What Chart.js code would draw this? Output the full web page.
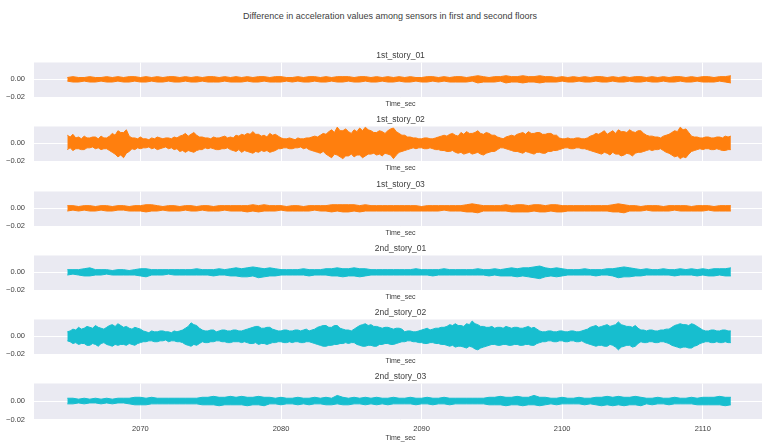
<!DOCTYPE html>
<html>
<head>
<meta charset="utf-8">
<script src="https://cdn.jsdelivr.net/npm/chart.js@4/dist/chart.umd.min.js"></script>
<style>
  html, body { margin: 0; padding: 0; background: #fff; overflow: hidden; }
  #fig { position: relative; width: 762px; height: 442px; overflow: hidden; background: #fff; }
  #suptitle {
    position: absolute; left: 0; top: 11px; width: 780px; line-height: 12px;
    text-align: center; font: 9px 'Liberation Sans', Arial, sans-serif; color: #3d3d3d;
  }
  canvas { position: absolute; left: 0; }
</style>
</head>
<body>
<div id="fig">
  <div id="suptitle">Difference in acceleration values among sensors in first and second floors</div>
</div>
<script>
// Sensor difference signals, summarised as upper / lower peak per time window.
// Values are in units of 1e-3; the two strongest channels use 0.2 s windows, the rest 0.4 s.
const T0 = 2064.8;   // first window start (s)
const UNIT = 1e-3;

const panelNames = ['1st_story_01', '1st_story_02', '1st_story_03',
                    '2nd_story_01', '2nd_story_02', '2nd_story_03'];
const windowSteps = [0.4, 0.2, 0.4, 0.4, 0.2, 0.4];
const xTicks = [2070, 2080, 2090, 2100, 2110];
const yTicks = [-0.02, 0.00];

const s1_01_hi = [
  2,3,2,2,3,2,2,3,2,3, 2,3,3,2,3,2,3,2,3,3, 2,3,2,3,2,3,3,2,3,2, 3,2,3,2,3,3,2,3,3,2,
  2,3,2,3,3,2,3,2,3,3, 3,2,3,3,2,3,2,3,2,3, 2,3,2,2,3,3,2,3,2,3, 3,2,3,4,3,2,3,3,4,3,
  3,4,3,3,4,3,3,2,3,2, 3,2,3,2,3,3,2,3,2,3, 2,3,3,2,3,2,3,2,3,3, 2,3,2,3,3,2,3,3,4];
const s1_01_lo = [
  -2,-3,-3,-2,-3,-3,-2,-3,-3,-2, -3,-3,-2,-3,-3,-2,-3,-3,-2,-3, -3,-2,-3,-3,-2,-3,-3,-3,-2,-3, -3,-3,-2,-3,-3,-2,-3,-3,-3,-2,
  -3,-2,-3,-3,-2,-3,-3,-2,-3,-3, -2,-3,-3,-2,-3,-3,-2,-3,-3,-2, -3,-3,-2,-3,-3,-2,-3,-2,-3,-3, -3,-3,-2,-4,-3,-3,-3,-2,-4,-3,
  -3,-4,-3,-3,-4,-3,-3,-3,-2,-3, -3,-2,-3,-3,-2,-3,-3,-2,-3,-3, -2,-3,-3,-2,-3,-3,-2,-3,-3,-2, -3,-3,-2,-3,-3,-3,-2,-3,-4];

const s1_02_hi = [
  9,7,10,6,7,5,8,6,6,7,7,5,8,6,6,8,11,9,14,12,
  12,15,8,6,6,5,7,5,5,4,6,5,7,6,5,6,6,5,7,6,
  8,9,11,8,10,12,9,7,7,6,6,5,7,6,6,7,8,6,7,6,
  9,8,10,9,11,10,13,10,10,8,9,7,11,9,10,8,6,5,5,6,
  5,4,6,5,5,6,6,7,8,7,9,11,10,13,15,12,18,14,14,16,
  13,11,15,13,17,14,18,15,14,12,12,14,13,11,14,16,17,13,11,9,
  9,7,7,6,6,5,5,6,6,5,5,6,7,8,9,8,10,11,9,8,
  12,10,13,11,11,12,14,11,10,12,11,9,9,7,6,5,7,8,9,8,
  10,11,12,10,13,11,11,12,12,10,10,11,11,9,9,6,5,5,6,5,
  5,6,6,5,5,6,8,9,11,10,12,14,10,12,14,11,15,13,13,12,
  15,13,12,14,14,11,9,8,8,7,7,6,8,9,10,12,14,13,18,15,
  16,12,8,7,7,6,6,7,7,6,6,7,7,6,8,7,8];
const s1_02_lo = [
  -7,-5,-8,-6,-6,-7,-7,-5,-5,-4,-6,-5,-7,-6,-6,-8,-10,-12,-15,-13,
  -16,-11,-9,-6,-7,-5,-6,-5,-5,-4,-6,-5,-7,-6,-5,-4,-6,-5,-7,-6,
  -9,-8,-10,-8,-9,-10,-8,-7,-7,-5,-6,-5,-6,-7,-7,-6,-6,-5,-7,-8,
  -9,-7,-10,-8,-9,-10,-11,-9,-10,-8,-9,-8,-10,-9,-8,-6,-6,-5,-5,-6,
  -6,-5,-5,-4,-6,-5,-7,-8,-9,-10,-11,-9,-12,-14,-16,-12,-13,-15,-17,-14,
  -14,-12,-15,-13,-13,-16,-14,-12,-12,-11,-13,-12,-14,-11,-12,-13,-17,-13,-10,-9,
  -8,-7,-6,-5,-6,-5,-5,-6,-6,-5,-6,-7,-7,-8,-8,-9,-9,-8,-10,-11,
  -10,-12,-11,-10,-12,-11,-10,-12,-13,-11,-10,-9,-9,-7,-5,-5,-6,-7,-8,-9,
  -9,-10,-11,-9,-10,-11,-12,-10,-10,-11,-11,-9,-9,-8,-8,-7,-6,-5,-5,-6,
  -6,-5,-5,-6,-6,-7,-8,-9,-10,-11,-12,-10,-11,-13,-10,-12,-12,-14,-13,-11,
  -12,-14,-11,-10,-10,-9,-8,-7,-8,-7,-7,-6,-8,-10,-11,-13,-15,-14,-17,-15,
  -16,-12,-9,-8,-7,-6,-7,-6,-6,-7,-7,-6,-7,-8,-8,-7,-7];

const s1_03_hi = [
  3,3,2,3,3,2,3,3,2,3, 3,2,3,3,4,4,3,2,3,3, 2,3,3,2,3,3,2,3,3,3, 3,3,3,4,3,4,3,3,3,2,
  3,3,2,3,3,3,3,4,4,4, 4,4,3,4,3,3,3,3,3,3, 3,3,3,2,3,3,3,3,3,3, 3,4,5,4,3,3,3,3,4,3,
  4,4,3,4,4,3,4,4,3,3, 3,3,3,3,3,3,3,4,5,4, 3,3,2,3,3,3,2,3,3,3, 3,2,3,3,3,2,3,3,3];
const s1_03_lo = [
  -3,-2,-3,-2,-3,-3,-2,-3,-3,-2, -2,-3,-3,-3,-4,-3,-3,-2,-3,-3, -3,-2,-3,-3,-2,-3,-3,-3,-2,-3, -3,-3,-4,-3,-4,-3,-3,-3,-2,-3,
  -3,-3,-3,-3,-2,-3,-3,-4,-3,-4, -4,-3,-4,-3,-3,-3,-3,-3,-3,-3, -3,-3,-3,-3,-3,-3,-3,-2,-3,-3, -3,-4,-4,-5,-3,-3,-3,-3,-3,-4,
  -4,-4,-4,-3,-4,-4,-3,-4,-4,-3, -3,-3,-3,-3,-3,-3,-3,-4,-4,-5, -3,-3,-3,-2,-3,-3,-3,-3,-2,-3, -3,-3,-3,-3,-2,-3,-3,-3,-3];

const s2_01_hi = [
  3,3,3,4,5,3,3,3,2,3, 3,2,3,4,4,3,3,3,3,3, 3,3,3,4,3,3,3,4,3,4, 5,4,5,6,5,4,5,4,3,3,
  3,3,4,3,3,3,4,4,5,4, 4,5,4,4,3,3,3,3,3,3, 3,3,4,3,3,3,3,4,3,3, 3,3,3,4,3,3,4,3,4,5,
  4,5,5,6,7,5,4,5,4,3, 3,3,4,3,3,3,4,4,5,6, 5,4,3,4,3,3,4,3,3,4, 3,4,3,4,3,4,4,4,5];
const s2_01_lo = [
  -3,-2,-3,-4,-4,-3,-3,-2,-3,-3, -3,-3,-3,-4,-5,-3,-3,-3,-2,-3, -3,-3,-3,-3,-3,-3,-4,-3,-3,-4, -4,-5,-5,-4,-6,-5,-4,-4,-3,-3,
  -3,-3,-3,-4,-3,-3,-3,-4,-4,-5, -4,-4,-5,-4,-3,-3,-3,-3,-3,-3, -3,-3,-3,-3,-3,-4,-3,-3,-3,-3, -3,-3,-3,-3,-3,-4,-3,-4,-4,-4,
  -5,-4,-5,-6,-7,-5,-4,-5,-4,-3, -3,-3,-3,-3,-4,-3,-3,-4,-6,-5, -5,-4,-4,-3,-3,-3,-3,-3,-4,-3, -3,-3,-4,-3,-4,-4,-3,-4,-4];

const s2_02_hi = [
  5,6,8,7,10,8,9,11,10,9,12,10,9,8,10,12,13,11,14,12,
  10,11,9,8,10,9,8,6,5,4,6,5,5,6,6,5,5,4,6,5,
  6,7,9,11,15,13,12,9,7,6,6,7,7,5,6,7,7,6,6,7,
  7,6,6,7,8,9,10,11,11,9,9,10,10,8,7,6,6,7,7,6,
  6,7,7,6,7,8,6,7,8,10,11,12,12,10,10,12,12,9,8,7,
  7,6,8,10,12,13,14,12,13,11,11,10,9,10,10,9,8,9,9,8,
  5,6,6,5,5,6,7,8,9,7,8,9,9,10,10,11,13,12,14,12,
  12,11,14,13,17,14,13,11,11,10,10,11,9,10,10,9,11,10,9,10,
  10,9,9,10,11,9,10,8,6,5,5,6,6,5,5,6,6,5,5,6,
  6,5,5,6,7,8,10,11,12,10,11,12,13,11,12,13,16,13,12,11,
  11,10,12,9,7,7,6,7,7,6,6,7,7,8,8,10,12,13,14,13,
  13,12,14,13,11,9,7,6,6,7,7,6,6,7,7,6,6];
const s2_02_lo = [
  -5,-6,-8,-7,-9,-8,-8,-10,-10,-8,-9,-11,-8,-7,-9,-10,-11,-9,-10,-9,
  -9,-10,-8,-9,-10,-8,-7,-6,-6,-5,-5,-6,-6,-5,-5,-4,-6,-5,-5,-6,
  -6,-7,-9,-10,-11,-9,-10,-8,-6,-7,-7,-6,-6,-5,-5,-6,-6,-7,-7,-6,
  -6,-6,-7,-6,-7,-8,-8,-7,-9,-8,-8,-9,-8,-7,-7,-6,-6,-7,-7,-6,
  -7,-6,-6,-7,-7,-6,-6,-7,-8,-9,-10,-11,-11,-10,-10,-9,-9,-8,-8,-7,
  -8,-7,-7,-9,-10,-11,-11,-10,-10,-11,-11,-9,-9,-8,-8,-9,-9,-8,-7,-6,
  -6,-5,-5,-6,-6,-7,-7,-8,-8,-7,-7,-8,-8,-9,-9,-10,-11,-10,-12,-11,
  -11,-12,-13,-11,-12,-14,-15,-13,-12,-11,-10,-9,-9,-10,-10,-9,-9,-10,-10,-9,
  -9,-10,-10,-9,-9,-10,-10,-8,-7,-6,-6,-5,-5,-6,-6,-5,-5,-6,-6,-5,
  -5,-6,-6,-5,-7,-8,-9,-10,-11,-10,-10,-11,-11,-9,-10,-12,-15,-12,-11,-10,
  -10,-12,-11,-8,-6,-7,-7,-6,-6,-7,-7,-6,-6,-7,-8,-10,-11,-12,-13,-12,
  -12,-13,-13,-11,-10,-8,-7,-6,-6,-7,-7,-6,-7,-7,-6,-7,-7];

const s2_03_hi = [
  3,3,2,3,2,3,2,3,2,3, 3,3,4,4,3,4,3,3,3,3, 3,3,3,3,4,4,5,4,4,5, 4,5,4,4,5,4,4,3,4,3,
  3,4,3,3,4,3,4,3,6,4, 3,4,3,4,3,4,3,3,4,3, 3,4,3,3,4,3,3,4,3,3, 3,3,3,3,3,4,4,5,4,4,
  5,4,4,6,4,4,3,3,4,3, 3,4,3,3,4,4,5,4,5,4, 4,5,4,3,3,4,3,3,4,3, 3,4,3,4,4,4,5,4,4];
const s2_03_lo = [
  -3,-3,-2,-3,-2,-2,-3,-2,-3,-2, -2,-3,-4,-4,-4,-3,-3,-3,-3,-3, -3,-3,-3,-3,-4,-4,-4,-5,-4,-4, -4,-4,-5,-4,-4,-5,-3,-3,-4,-3,
  -3,-4,-3,-4,-3,-3,-4,-4,-3,-4, -4,-3,-3,-4,-3,-4,-3,-4,-3,-3, -3,-3,-4,-3,-3,-4,-3,-3,-4,-3, -3,-3,-3,-3,-3,-4,-4,-4,-5,-4,
  -4,-5,-4,-4,-5,-4,-3,-4,-3,-3, -3,-3,-4,-3,-4,-5,-4,-5,-4,-5, -4,-4,-5,-3,-4,-3,-3,-4,-3,-3, -3,-3,-4,-4,-4,-4,-4,-5,-4];

const upperSeries = [s1_01_hi, s1_02_hi, s1_03_hi, s2_01_hi, s2_02_hi, s2_03_hi];
const lowerSeries = [s1_01_lo, s1_02_lo, s1_03_lo, s2_01_lo, s2_02_lo, s2_03_lo];
const seriesColors = ['#ff7f0e', '#ff7f0e', '#ff7f0e', '#17becf', '#17becf', '#17becf'];

// ---- figure geometry and styling ----
const FONT = "'Liberation Sans', Arial, sans-serif";
const TEXT = '#3d3d3d';
const PANEL_BG = '#eaeaf2';
const FIG_W = 802;              // canvases run past the right edge of the figure
const PLOT_LEFT = 34, PLOT_RIGHT = 767;
const PLOT_H = 37, TITLE_H = 13;
const plotTops = [62, 126, 191, 255, 319, 383];
const X_MIN = 2062.43, X_MAX = 2114.57;
const Y_MIN = -0.0202, Y_MAX = 0.0187;

const plotBackground = {
  id: 'plotBackground',
  beforeDraw(chart) {
    const { ctx, chartArea: a } = chart;
    ctx.save();
    ctx.fillStyle = PANEL_BG;
    ctx.fillRect(a.left, a.top, a.right - a.left, a.bottom - a.top);
    ctx.restore();
  }
};

function toPoints(arr, step) {
  return arr.map((v, i) => ({ x: T0 + i * step, y: v * UNIT }));
}

function fmtY(v) {
  const s = Math.abs(v).toFixed(2);
  return v < 0 ? '\u2212' + s : s;
}

const fig = document.getElementById('fig');

panelNames.forEach((name, k) => {
  const last = k === panelNames.length - 1;
  const bottomH = last ? 23 : 12;
  const canvas = document.createElement('canvas');
  canvas.width = FIG_W;
  canvas.height = TITLE_H + PLOT_H + bottomH;
  canvas.style.top = (plotTops[k] - TITLE_H) + 'px';
  fig.appendChild(canvas);
  const color = seriesColors[k];
  const step = windowSteps[k];

  new Chart(canvas, {
    type: 'line',
    data: {
      datasets: [
        { data: toPoints(upperSeries[k], step), borderColor: color, backgroundColor: color,
          borderWidth: 1, pointRadius: 0, fill: '+1', tension: 0, borderJoinStyle: 'miter' },
        { data: toPoints(lowerSeries[k], step), borderColor: color, backgroundColor: color,
          borderWidth: 1, pointRadius: 0, fill: false, tension: 0, borderJoinStyle: 'miter' }
      ]
    },
    options: {
      responsive: false,
      animation: false,
      devicePixelRatio: 1,
      events: [],
      layout: { padding: { left: 0, right: FIG_W - PLOT_RIGHT, top: 0, bottom: 0 } },
      plugins: {
        legend: { display: false },
        tooltip: { enabled: false },
        title: {
          display: true, text: name, color: TEXT, fullSize: false,
          font: { family: FONT, size: 8.5, weight: 'normal', lineHeight: 1.2 },
          padding: { top: 1, bottom: 1.8 }
        }
      },
      scales: {
        x: {
          type: 'linear', min: X_MIN, max: X_MAX,
          afterBuildTicks: s => { s.ticks = xTicks.map(v => ({ value: v })); },
          afterFit: s => { s.height = bottomH; },
          grid: { color: '#ffffff', lineWidth: 1, drawTicks: false },
          border: { display: false },
          ticks: {
            display: last, color: TEXT, padding: 4, maxRotation: 0, autoSkip: false,
            font: { family: FONT, size: 7.5 },
            callback: v => String(v)
          },
          title: {
            display: true, text: 'Time_sec', color: TEXT,
            font: { family: FONT, size: 7, lineHeight: 1.2 },
            padding: { top: 0, bottom: 1 }
          }
        },
        y: {
          min: Y_MIN, max: Y_MAX,
          afterBuildTicks: s => { s.ticks = yTicks.map(v => ({ value: v })); },
          afterFit: s => { s.width = PLOT_LEFT; },
          grid: { color: '#ffffff', lineWidth: 1, drawTicks: false },
          border: { display: false },
          ticks: {
            color: TEXT, padding: 9,
            font: { family: FONT, size: 7.5 },
            callback: v => fmtY(v)
          }
        }
      }
    },
    plugins: [plotBackground]
  });
});
</script>
</body>
</html>
